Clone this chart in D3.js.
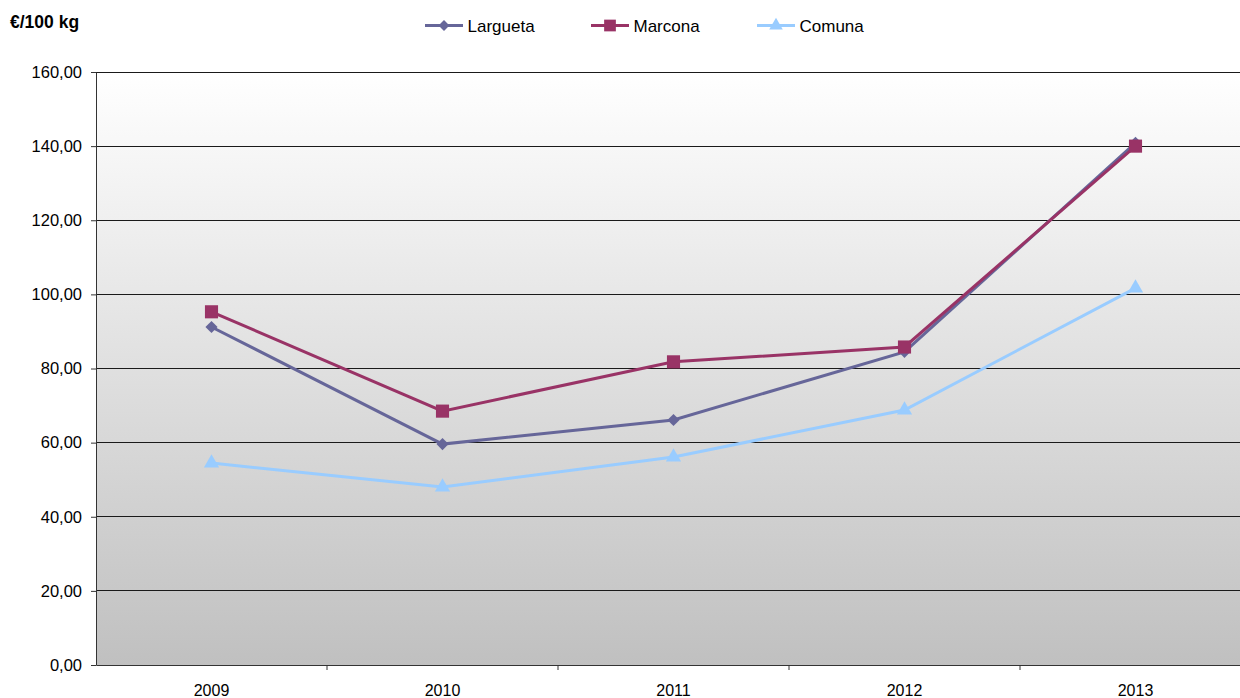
<!DOCTYPE html>
<html><head><meta charset="utf-8">
<script src="https://cdn.jsdelivr.net/npm/d3@7"></script>
<style>body{margin:0;background:#fff;font-family:"Liberation Sans",Arial,sans-serif}</style>
</head><body><svg id="c" width="1240" height="698"></svg>
<script>
const years = ["2009","2010","2011","2012","2013"];
const largueta = [91.2, 59.6, 66.1, 84.5, 140.9];
const marcona = [95.3, 68.5, 81.8, 85.8, 140.0];
const comuna = [54.5, 48.0, 56.1, 68.8, 101.7];
const yTicks = [0,20,40,60,80,100,120,140,160];
const seriesNames = ["Largueta","Marcona","Comuna"];
const seriesColors = ["#666699","#993366","#99CCFF"];

const svg = d3.select("#c");
const L=96, T=72, B=665, W=1155;
const x = d3.scaleBand().domain(years).range([L, L+W]);
const y = d3.scaleLinear().domain([0,160]).range([B,T]);
const fmt = v => d3.format(".2f")(v).replace(".", ",");
const FONT = "Liberation Sans, Arial, sans-serif";

const defs = svg.append("defs");
const g = defs.append("linearGradient").attr("id","bg").attr("x1",0).attr("y1",0).attr("x2",0).attr("y2",1);
g.append("stop").attr("offset","0%").attr("stop-color","#ffffff");
g.append("stop").attr("offset","100%").attr("stop-color","#c0c0c0");
svg.append("rect").attr("x",L).attr("y",T).attr("width",W).attr("height",B-T).attr("fill","url(#bg)");

// gridlines
svg.append("g").selectAll("line").data(yTicks.filter(d=>d>0)).join("line")
  .attr("x1",L).attr("x2",L+W).attr("y1",d=>y(d)).attr("y2",d=>y(d))
  .attr("stroke","#1a1a1a").attr("stroke-width",1).attr("shape-rendering","crispEdges");

// y axis
const ya = svg.append("g").attr("transform",`translate(${L},0)`)
  .call(d3.axisLeft(y).tickValues(yTicks).tickFormat(fmt).tickSize(5).tickSizeOuter(0));
ya.select(".domain").attr("stroke","#333");
ya.selectAll(".tick line").attr("stroke","#333");
ya.selectAll("text").attr("font-size",16.5).attr("font-family",FONT).attr("fill","#000").attr("dx",-6);

// x axis
const xa = svg.append("g").attr("transform",`translate(0,${B})`)
  .call(d3.axisBottom(x).tickSize(0).tickSizeOuter(0));
xa.select(".domain").attr("stroke","#333");
xa.selectAll("text").attr("font-size",16).attr("font-family",FONT).attr("fill","#000").attr("y",31).attr("dy",0);
svg.append("g").selectAll("line").data(years.slice(1)).join("line")
  .attr("x1",d=>x(d)).attr("x2",d=>x(d)).attr("y1",B).attr("y2",B+5).attr("stroke","#333");

const allData=[largueta,marcona,comuna];
function marker(k, scale){
  if(k===0) return {d:d3.symbol().type(d3.symbolSquare).size(74*scale)(), rot:45};
  if(k===1) return {d:d3.symbol().type(d3.symbolSquare).size(172*scale)(), rot:0};
  return {d:d3.symbol().type(d3.symbolTriangle).size(100*scale)(), rot:0};
}
const line = d3.line().x((d,i)=>x(years[i])+x.bandwidth()/2).y(d=>y(d));
allData.forEach((arr,k)=>{
  svg.append("path").datum(arr).attr("d",line).attr("fill","none").attr("stroke",seriesColors[k]).attr("stroke-width",3);
});
allData.forEach((arr,k)=>{
  const m = marker(k,1);
  svg.append("g").selectAll("path").data(arr).join("path")
    .attr("d",m.d)
    .attr("transform",(d,i)=>`translate(${x(years[i])+x.bandwidth()/2},${y(d)}) rotate(${m.rot})`)
    .attr("fill",seriesColors[k]);
});

// title
svg.append("text").attr("x",10).attr("y",28).attr("font-size",17.5).attr("font-weight","bold").attr("font-family",FONT).text("€/100 kg");

// legend
const lx=[425,591,757];
seriesNames.forEach((n,k)=>{
  const gg=svg.append("g");
  gg.append("line").attr("x1",lx[k]).attr("x2",lx[k]+38).attr("y1",25.5).attr("y2",25.5).attr("stroke",seriesColors[k]).attr("stroke-width",3);
  const m = marker(k,0.8);
  gg.append("path").attr("d",m.d).attr("transform",`translate(${lx[k]+19},25.5) rotate(${m.rot})`).attr("fill",seriesColors[k]);
  gg.append("text").attr("x",lx[k]+42.5).attr("y",32).attr("font-size",17).attr("font-family",FONT).attr("fill","#000").text(n);
});
</script></body></html>
